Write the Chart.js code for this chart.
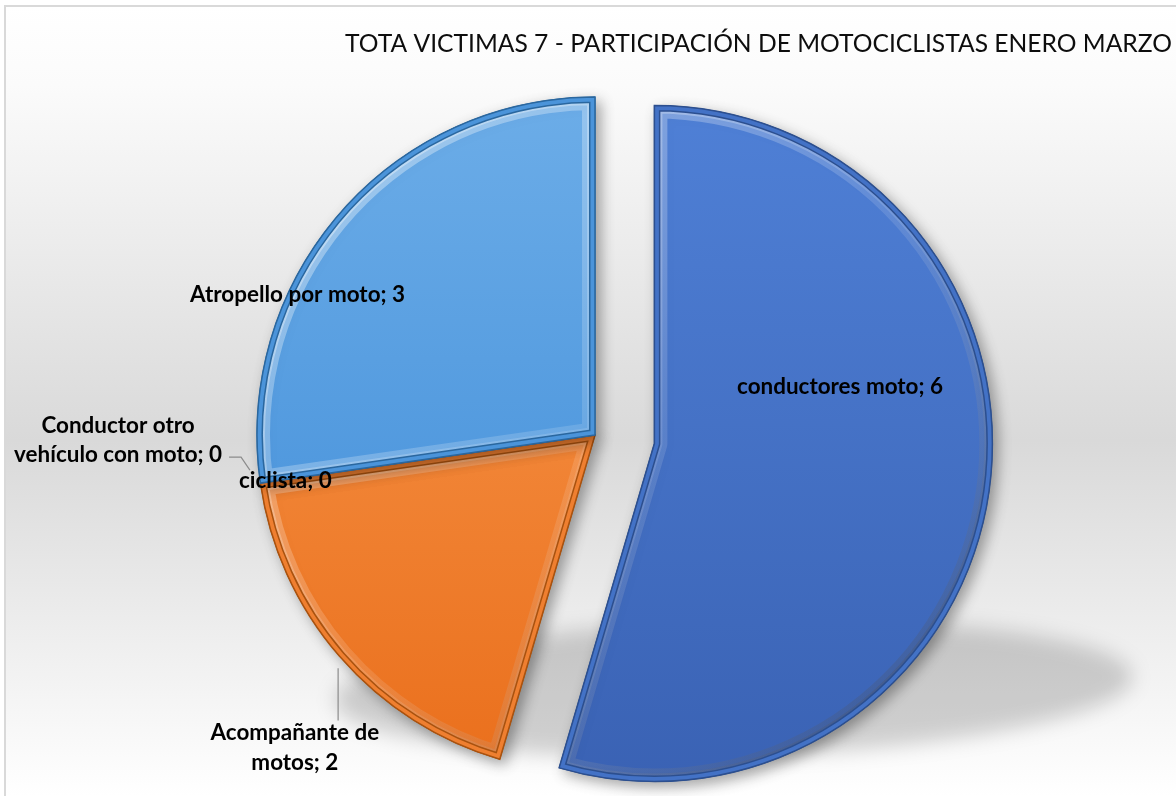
<!DOCTYPE html>
<html>
<head>
<meta charset="utf-8">
<script src="https://cdn.jsdelivr.net/npm/chart.js@4.4.1/dist/chart.umd.min.js"></script>
<style>
html,body{margin:0;padding:0;background:#ffffff;overflow:hidden}
#wrap{width:1176px;height:796px;position:relative}
canvas{display:block}
</style>
</head>
<body>
<div id="wrap"><canvas id="c" width="1176" height="796"></canvas></div>
<script>
// ---------- data ----------
const categories = ['conductores moto', 'Acompañante de motos', 'ciclista', 'Conductor otro vehículo con moto', 'Atropello por moto'];
const values = [6, 2, 0, 0, 3];
const chartTitle = 'TOTA VICTIMAS 7 - PARTICIPACIÓN DE MOTOCICLISTAS ENERO MARZO';

// ---------- styles ----------
const fillTop    = ['#4f80d6', '#f99c52', '#c4c4c4', '#ffc52e', '#6cade8'];
const fillBottom = ['#3a62b4', '#ea6f1c', '#a0a0a0', '#e0a400', '#3b89d6'];
const rimColors  = ['#4372c6', '#ef7f30', '#a8a8a8', '#e6aa10', '#4b94da'];
const edgeColors = ['#2c4f8f', '#a9520f', '#6f6f6f', '#9a7400', '#2a679f'];
const explode    = [60, 0, 0, 0, 0];
const labelAnchor = [[0.725, -0.142], [-0.888, 0.926], [-0.916, 0.136], [-1.411, 0.016], [-0.88, -0.415]];
const labelBreak  = [0, 2, 0, 2, 0];
const PIE_RADIUS = 338;

function fitSize(ctx, text, weight, family, target) {
  ctx.save();
  ctx.font = weight + ' 100px ' + family;
  const w = ctx.measureText(text).width;
  ctx.restore();
  return 100 * target / w;
}

const bgPlugin = {
  id: 'bg',
  beforeDraw(chart) {
    const ctx = chart.ctx, W = chart.width, H = chart.height;
    ctx.save();
    ctx.fillStyle = '#ffffff';
    ctx.fillRect(0, 0, W, H);
    const g = ctx.createLinearGradient(0, 6, 0, H);
    g.addColorStop(0, '#ffffff');
    g.addColorStop(0.1, '#fbfbfb');
    g.addColorStop(0.55, '#d9d9d9');
    g.addColorStop(1, '#ffffff');
    ctx.fillStyle = g;
    ctx.fillRect(6, 7, W - 6, H - 7);
    ctx.strokeStyle = '#d9d9d9';
    ctx.lineWidth = 2;
    ctx.beginPath();
    ctx.moveTo(5, H); ctx.lineTo(5, 6); ctx.lineTo(W, 6);
    ctx.stroke();
    // title
    const size = fitSize(ctx, chartTitle, 'normal', 'Lato', 827);
    ctx.font = 'normal ' + size.toFixed(2) + 'px Lato';
    ctx.fillStyle = '#0d0d0d';
    ctx.textAlign = 'left';
    ctx.textBaseline = 'alphabetic';
    ctx.fillText(chartTitle, 345, 52);
    ctx.restore();
  }
};

const fxPlugin = {
  id: 'fx',
  beforeDatasetsDraw(chart) {
    const arcs = chart.getDatasetMeta(0).data;
    const ctx = chart.ctx;
    const {x: cx, y: cy, outerRadius: R} = arcs[0];
    // floor shadow
    ctx.save();
    ctx.filter = 'blur(10px)';
    ctx.fillStyle = 'rgba(0,0,0,0.17)';
    ctx.beginPath();
    ctx.ellipse(cx + 0.41 * R, cy + 0.75 * R, 1.18 * R, 0.2 * R, -0.03, 0, Math.PI * 2);
    ctx.fill();
    ctx.restore();
    arcs.forEach((el, i) => {
      if (el._fxPatched) return;
      const orig = el.draw;
      el.draw = function (c) {
        if (!this.circumference) return;
        const half = (this.startAngle + this.endAngle) / 2;
        c.save();
        c.translate(Math.cos(half) * explode[i], Math.sin(half) * explode[i]);
        c.save();
        c.shadowColor = 'rgba(0,0,0,0.35)';
        c.shadowBlur = 14;
        c.shadowOffsetX = 5;
        c.shadowOffsetY = 5;
        orig.call(this, c);
        c.restore();
        const p = new Path2D();
        p.moveTo(this.x, this.y);
        p.arc(this.x, this.y, this.outerRadius, this.startAngle, this.endAngle);
        p.closePath();
        c.save();
        c.clip(p);
        c.lineJoin = 'round';
        const r = this.outerRadius;
        const lg = c.createLinearGradient(this.x - r, this.y - r, this.x + r, this.y + r);
        lg.addColorStop(0, 'rgba(255,255,255,0.45)');
        lg.addColorStop(0.5, 'rgba(255,255,255,0.12)');
        lg.addColorStop(1, 'rgba(0,0,0,0.25)');
        c.lineWidth = 26; c.strokeStyle = lg; c.stroke(p);
        c.lineWidth = 16; c.strokeStyle = lg; c.stroke(p);
        c.lineWidth = 12; c.strokeStyle = edgeColors[i]; c.stroke(p);
        c.lineWidth = 9; c.strokeStyle = rimColors[i]; c.stroke(p);
        c.restore();
        c.lineWidth = 1.5; c.strokeStyle = edgeColors[i]; c.stroke(p);
        c.restore();
      };
      el._fxPatched = true;
    });
  },
  afterDatasetsDraw(chart) {
    const arcs = chart.getDatasetMeta(0).data;
    const ctx = chart.ctx;
    const {x: cx, y: cy, outerRadius: R} = arcs[0];
    const size = fitSize(ctx, categories[0] + '; ' + values[0], 'bold', 'Lato', 206);
    ctx.save();
    ctx.font = 'bold ' + size.toFixed(2) + 'px Lato';
    ctx.fillStyle = '#000000';
    ctx.textAlign = 'center';
    ctx.textBaseline = 'middle';
    const lh = 29.5;
    const ends = [];
    categories.forEach((cat, i) => {
      const words = (cat + '; ' + values[i]).split(' ');
      const lines = labelBreak[i] ? [words.slice(0, labelBreak[i]).join(' '), words.slice(labelBreak[i]).join(' ')] : [words.join(' ')];
      const x = cx + labelAnchor[i][0] * R;
      const y0 = cy + labelAnchor[i][1] * R - (lines.length - 1) * lh / 2;
      lines.forEach((ln, k) => ctx.fillText(ln, x, y0 + k * lh));
      const last = lines[lines.length - 1];
      ends.push({x, top: y0 - lh / 2, right: x + ctx.measureText(last).width / 2, lastY: y0 + (lines.length - 1) * lh});
    });
    // leader lines
    ctx.strokeStyle = '#8c8c8c';
    ctx.lineWidth = 1.2;
    const e3 = ends[3];
    ctx.beginPath();
    ctx.moveTo(e3.right + 7, e3.lastY + 2);
    ctx.lineTo(e3.right + 19, e3.lastY + 2);
    ctx.lineTo(cx - 1.021 * R, cy + 0.104 * R);
    ctx.stroke();
    const e1 = ends[1];
    const lx = cx - 0.760 * R;
    ctx.beginPath();
    ctx.moveTo(lx, cy + 0.69 * R);
    ctx.lineTo(lx, e1.top + 2);
    ctx.stroke();
    ctx.restore();
  }
};

new Chart(document.getElementById('c'), {
  type: 'pie',
  data: {
    labels: categories,
    datasets: [{
      data: values,
      backgroundColor: (context) => {
        const i = context.dataIndex;
        const chart = context.chart;
        const a = chart.chartArea;
        if (!a) return fillTop[i];
        const cy = (a.top + a.bottom) / 2;
        const g = chart.ctx.createLinearGradient(0, cy - PIE_RADIUS, 0, cy + PIE_RADIUS);
        g.addColorStop(0, fillTop[i]);
        g.addColorStop(1, fillBottom[i]);
        return g;
      },
      borderColor: edgeColors,
      borderWidth: 1
    }]
  },
  options: {
    responsive: false,
    animation: false,
    events: [],
    radius: PIE_RADIUS,
    layout: { padding: { left: 14, top: 74, right: 0, bottom: 0 } },
    plugins: {
      legend: { display: false },
      title: { display: false },
      tooltip: { enabled: false }
    }
  },
  plugins: [bgPlugin, fxPlugin]
});
</script>
</body>
</html>
